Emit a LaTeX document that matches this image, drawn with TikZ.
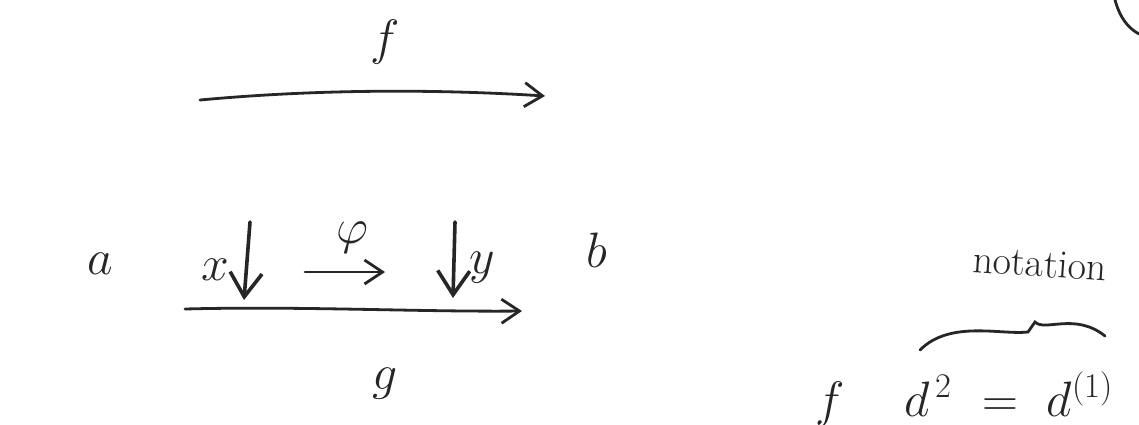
\documentclass[tikz,border=0pt]{standalone}
\usetikzlibrary{arrows.meta}
\begin{document}
\begin{tikzpicture}[x=0.5pt,y=-0.5pt,
  ink/.style={line width=1.4pt,draw=black!85,line cap=round},
  arr/.style={ink,-{Straight Barb[length=9pt,width=12pt,line width=1.4pt]}},
  varr/.style={ink,line width=1.8pt,-{Straight Barb[length=12pt,width=16pt,line width=1.8pt]}},
  big/.style={font=\fontsize{38}{44}\selectfont,text=black!85,inner sep=0pt},
  mid/.style={font=\fontsize{24}{28}\selectfont,text=black!85,inner sep=0pt},
  small/.style={font=\fontsize{20}{24}\selectfont,text=black!85,inner sep=0pt},
  form/.style={font=\fontsize{26}{30}\selectfont,text=black!85,inner sep=0pt}]
\useasboundingbox (0,0) rectangle (1139,424);
\fill[white] (0,0) rectangle (1139,424);
% labels
\node[big] (f) at (385,42) {$f$};
\node[big] (a) at (100,264) {$a$};
\node[big] (b) at (597,250) {$b$};
\node[mid] (x) at (215,270) {$x$};
\node[mid] (y) at (482,268) {$y$};
\node[mid] (phi) at (352,238) {$\varphi$};
\node[big] (g) at (385,384) {$g$};
% arrow ends
\coordinate (fs) at (200,100);
\coordinate (fe) at (545,96);
\coordinate (gs) at (185,309);
\coordinate (ge) at (522,311);
\coordinate (xs) at (250,222);
\coordinate (xe) at (244,300);
\coordinate (ys) at (455,222);
\coordinate (ye) at (453,298);
\coordinate (ps) at (305,272);
\coordinate (pe) at (385,272);
\draw[arr] (fs) .. controls (330,88) and (450,90) .. (fe);
\draw[arr] (gs) .. controls (300,306) and (420,312) .. (ge);
\draw[varr] (xs) -- (xe);
\draw[varr] (ys) -- (ye);
\draw[arr] (ps) -- (pe);
% notation with brace
\node[small,rotate=-4] (nota) at (1040,264) {notation};
\coordinate (bl) at (920,350);
\coordinate (bt) at (1035,322);
\coordinate (br) at (1105,336);
\draw[ink] (bl) .. controls (950,320) and (1000,335) .. (1028,332) -- (bt) .. controls (1045,332) and (1075,312) .. (br);
% bottom formula
\node[form,anchor=base] (f2) at (830,416) {$f$};
\node[form,anchor=base] (d1) at (928,416) {$d^{\,2}$};
\node[form,anchor=base] (eq) at (1000,416) {$=$};
\node[form,anchor=base] (d2) at (1080,416) {$d^{(1)}$};
% top right arc
\coordinate (as) at (1115,0);
\coordinate (ae) at (1139,34);
\draw[ink] (as) .. controls (1120,18) and (1128,28) .. (ae);
\end{tikzpicture}
\end{document}
